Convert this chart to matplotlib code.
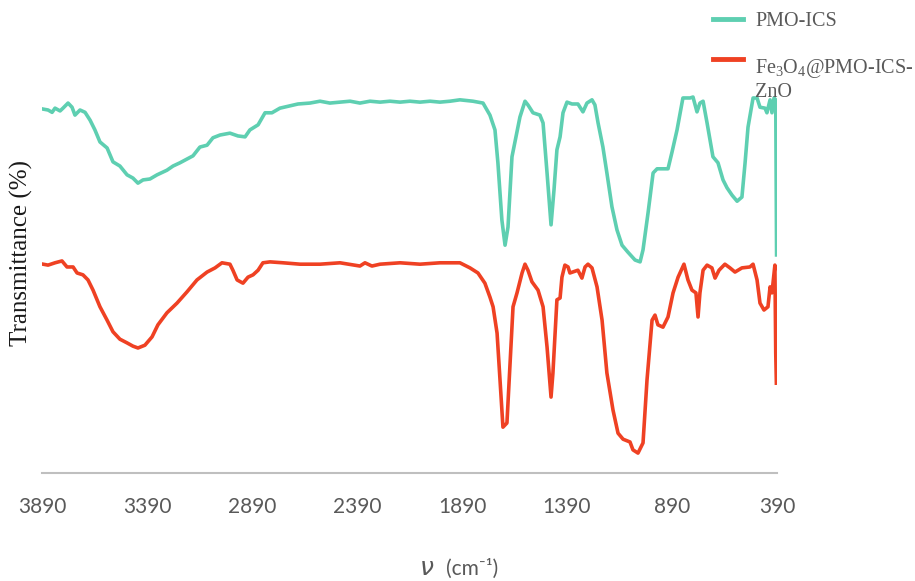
import matplotlib
matplotlib.use("Agg")
import matplotlib.pyplot as plt
from matplotlib.legend_handler import HandlerLine2D

plt.rcParams['mathtext.fontset'] = 'custom'
plt.rcParams['mathtext.rm'] = 'Liberation Serif'

# FT-IR spectra (wavenumber cm-1, transmittance a.u.)
wn_pmo = [3885, 3861, 3842, 3828, 3804, 3790, 3766, 3747, 3733, 3709, 3685, 3661,
          3638, 3614, 3580, 3552, 3519, 3485, 3457, 3433, 3409, 3376, 3342, 3295,
          3266, 3233, 3200, 3171, 3138, 3104, 3076, 3042, 2995, 2957, 2923, 2900,
          2861, 2828, 2795, 2757, 2709, 2671, 2614, 2566, 2519, 2471, 2423, 2376,
          2328, 2280, 2233, 2185, 2138, 2090, 2042, 1995, 1947, 1900, 1838, 1790,
          1757, 1733, 1719, 1700, 1685, 1671, 1652, 1638, 1614, 1590, 1576, 1552,
          1519, 1504, 1485, 1466, 1452, 1438, 1423, 1409, 1390, 1366, 1338, 1314,
          1295, 1271, 1257, 1242, 1219, 1200, 1176, 1152, 1128, 1100, 1066, 1042,
          1028, 1004, 980, 961, 909, 890, 866, 838, 804, 790, 771, 757, 742, 723,
          695, 671, 647, 628, 604, 580, 557, 542, 528, 504, 485, 471, 447, 438,
          423, 414, 404, 396, 392]
t_pmo = [78.6, 78.4, 77.9, 78.8, 78.2, 78.8, 79.9, 79.0, 77.3, 78.4, 77.9, 76.2,
         74.1, 71.5, 70.2, 67.2, 66.3, 64.4, 63.7, 62.6, 63.3, 63.5, 64.4, 65.4,
         66.3, 67.0, 67.8, 68.5, 70.4, 70.8, 72.4, 73.0, 73.4, 72.8, 72.6, 74.1,
         75.2, 77.8, 77.8, 78.8, 79.3, 79.7, 79.9, 80.3, 79.9, 80.1, 80.3, 79.9,
         80.3, 80.1, 80.3, 80.1, 80.3, 80.1, 80.3, 80.1, 80.3, 80.6, 80.3, 79.9,
         77.3, 74.1, 67.0, 54.6, 49.2, 53.1, 68.3, 71.5, 76.9, 80.3, 79.5, 77.8,
         77.3, 75.6, 64.8, 53.6, 61.1, 69.8, 72.6, 77.8, 80.1, 79.7, 79.7, 78.0,
         79.9, 80.6, 79.5, 75.6, 70.4, 64.8, 57.5, 52.5, 49.2, 47.7, 46.0, 45.6,
         48.2, 56.2, 64.8, 65.7, 65.7, 69.3, 74.1, 81.0, 81.0, 81.2, 78.0, 79.9,
         80.3, 75.6, 68.3, 67.0, 63.3, 61.6, 60.0, 58.7, 59.6, 67.0, 74.7, 81.0,
         81.0, 79.0, 78.8, 77.8, 80.6, 77.8, 81.0, 80.6, 47.1]

wn_zno = [3885, 3861, 3828, 3795, 3771, 3742, 3723, 3695, 3671, 3647, 3614, 3580,
          3552, 3519, 3485, 3457, 3433, 3400, 3366, 3338, 3295, 3247, 3200, 3152,
          3104, 3066, 3033, 2995, 2981, 2961, 2933, 2909, 2885, 2861, 2838, 2804,
          2742, 2661, 2566, 2471, 2376, 2352, 2319, 2280, 2185, 2090, 1995, 1923,
          1900, 1852, 1814, 1781, 1757, 1742, 1723, 1709, 1695, 1676, 1661, 1647,
          1628, 1604, 1590, 1576, 1557, 1528, 1504, 1485, 1466, 1457, 1438, 1423,
          1414, 1400, 1385, 1376, 1338, 1319, 1304, 1290, 1271, 1247, 1223, 1200,
          1171, 1147, 1123, 1090, 1076, 1052, 1028, 1009, 985, 971, 957, 933, 909,
          885, 861, 833, 814, 795, 776, 766, 757, 742, 723, 700, 685, 666, 638,
          614, 590, 557, 519, 504, 485, 471, 452, 433, 423, 414, 400, 396, 393]
t_zno = [45.1, 44.9, 45.4, 45.8, 44.5, 44.5, 43.2, 42.8, 41.7, 39.5, 35.9, 33.0,
         30.5, 28.9, 28.1, 27.4, 27.0, 27.6, 29.4, 32.0, 34.6, 36.7, 39.1, 41.7,
         43.4, 44.3, 45.4, 45.1, 43.8, 41.7, 41.0, 42.3, 42.8, 43.8, 45.4, 45.6,
         45.4, 45.1, 45.1, 45.4, 44.7, 45.4, 44.7, 45.1, 45.4, 45.1, 45.4, 45.4,
         45.4, 44.3, 43.2, 41.0, 38.0, 35.9, 30.2, 20.1, 9.9, 10.8, 23.8, 35.9,
         38.9, 43.2, 45.1, 43.8, 41.3, 39.5, 35.9, 27.2, 16.4, 21.6, 37.4, 37.8,
         42.3, 44.9, 44.5, 43.2, 43.8, 42.1, 44.5, 45.1, 44.3, 40.2, 33.0, 21.6,
         13.6, 8.6, 7.3, 6.7, 5.0, 4.3, 6.5, 20.1, 33.0, 34.1, 32.0, 31.5, 33.7,
         38.9, 42.3, 45.1, 41.7, 39.5, 38.9, 33.7, 38.9, 43.8, 44.9, 44.3, 42.1,
         43.8, 45.1, 44.3, 43.4, 44.3, 44.5, 45.1, 41.7, 36.7, 35.2, 35.9, 40.2,
         38.9, 44.9, 25.9, 19.4]

xticks = [3890, 3390, 2890, 2390, 1890, 1390, 890, 390]
label_pmo = 'PMO-ICS'
label_zno = 'Fe$_3$O$_4$@PMO-ICS-\nZnO'


class HandlerFirstLine(HandlerLine2D):
    # put the legend line beside the first line of a wrapped label
    def __init__(self, shift, **kw):
        super().__init__(**kw)
        self.shift = shift

    def create_artists(self, legend, orig_handle, xdescent, ydescent,
                       width, height, fontsize, trans):
        return super().create_artists(legend, orig_handle, xdescent, ydescent,
                                      width, height + 2 * self.shift,
                                      fontsize, trans)


fig = plt.figure(figsize=(9.15, 5.81), dpi=100)
ax = fig.add_axes([42 / 915, 108 / 581, 735 / 915, 463 / 581])

ax.plot(wn_pmo, t_pmo, color='#5ECFB1', linewidth=2.6, label=label_pmo)
l_zno, = ax.plot(wn_zno, t_zno, color='#EF4123', linewidth=2.6, label=label_zno)

ax.set_xlim(3890, 390)
ax.set_ylim(0, 100)
ax.set_xticks(xticks)
ax.set_xticklabels([str(v) for v in xticks], fontsize=15, color='#595959',
                   family='Lato')
ax.tick_params(axis='x', length=0, pad=17)
ax.set_yticks([])
for side in ['top', 'right', 'left']:
    ax.spines[side].set_visible(False)
ax.spines['bottom'].set_color('#BFBFBF')
ax.spines['bottom'].set_linewidth(1.5)

fig.text(21 / 915, 1 - 253 / 581, 'Transmittance (%)', rotation=90,
         ha='center', va='center', fontsize=18, family='Liberation Serif',
         color='#1a1a1a')
fig.text(427 / 915, 1 - 568 / 581, 'ν', ha='center', va='center',
         fontsize=18, style='italic', color='#595959', family='DejaVu Sans')
fig.text(472 / 915, 1 - 569 / 581, '(cm⁻¹)', ha='center', va='center',
         fontsize=15, color='#595959', family=['Lato', 'DejaVu Sans'])

leg = ax.legend(loc='upper left', bbox_to_anchor=(713 / 915, 1 - 12 / 581),
                bbox_transform=fig.transFigure, frameon=False,
                prop={'family': 'Liberation Serif', 'size': 14.5},
                borderpad=0, borderaxespad=0,
                handlelength=1.5, handletextpad=0.6, labelspacing=1.3,
                handler_map={l_zno: HandlerFirstLine(shift=15)})
for txt in leg.get_texts():
    txt.set_color('#595959')
for line in leg.get_lines():
    line.set_linewidth(3.5)

fig.savefig('out.png', dpi=100)
